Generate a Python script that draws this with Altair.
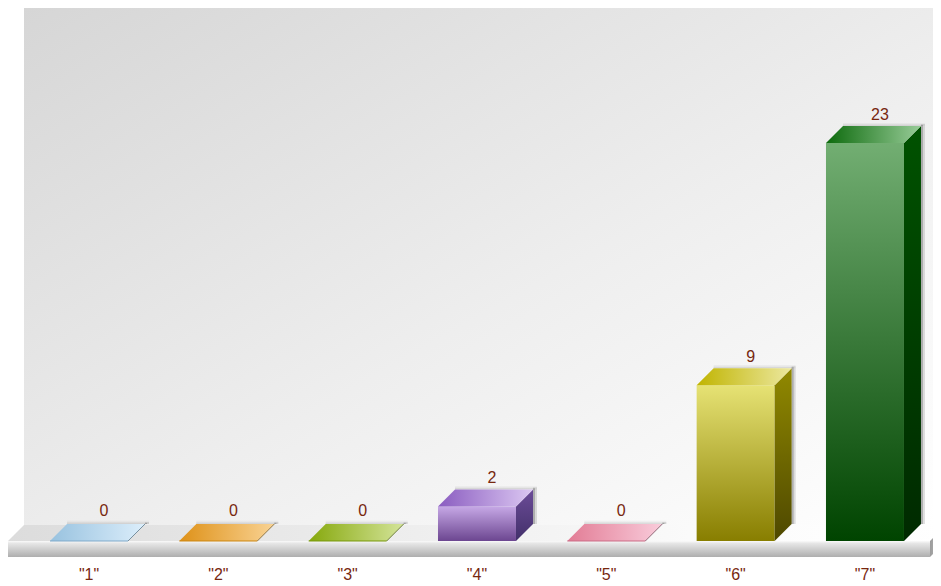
import altair as alt
import pandas as pd

categories = ['"1"', '"2"', '"3"', '"4"', '"5"', '"6"', '"7"']
values = [0, 0, 0, 2, 0, 9, 23]
top_left = ["#98c2df", "#de9118", "#86a80c", "#8a5cc0", "#e27c95", "#c0b400", "#0c6a0c"]
top_right = ["#dceefb", "#f9d394", "#d4e49a", "#dcc8f2", "#f9ccdb", "#ece8a0", "#98cc98"]
front_top = ["#c8e0f2", "#f4c878", "#c4da78", "#c6a8e6", "#f2b4c6", "#e6e274", "#72ae72"]
front_bot = ["#7fa8c8", "#c98410", "#76960a", "#6c4690", "#c86a84", "#887e00", "#004400"]
side_top = ["#9ab0c0", "#b09868", "#90a060", "#6c4c98", "#b08898", "#918900", "#005200"]
side_bot = ["#78909f", "#907848", "#708040", "#42306a", "#906878", "#4e4800", "#002a00"]

W, H = 925, 576
PITCH = 129.33      # px per category
UNIT = 17.3         # px per value unit
BASE_PX = 533       # y of value 0 in chart px
C1_PX = 81          # x of category 1 centre in chart px
HALF = 39 / PITCH
DX = 17 / PITCH
DY = 17 / UNIT
px = 1 / PITCH      # one px on x, in category units
py = 1 / UNIT       # one px on y, in value units

x_dom = [1 - C1_PX * px, 1 + (W - C1_PX) * px]
y_dom = [-(H - BASE_PX) * py, BASE_PX * py]
XS = alt.Scale(domain=x_dom, nice=False, zero=False)
YS = alt.Scale(domain=y_dom, nice=False, zero=False)
XE = alt.X("x:Q", scale=XS, axis=None)
YE = alt.Y("y:Q", scale=YS, axis=None)
X2 = alt.X2("x2:Q")
Y2 = alt.Y2("y2:Q")


def grad(stops, x2=0, y2=1):
    return alt.Gradient(gradient="linear", x1=0, y1=0, x2=x2, y2=y2,
                        stops=[alt.GradientStop(color=c, offset=o) for o, c in stops])


def poly(rows, fill, **kw):
    df = pd.DataFrame(rows, columns=["x", "y", "y2"])
    return alt.Chart(df).mark_area(fill=fill, interpolate="linear", **kw).encode(x=XE, y=YE, y2=Y2)


def box(x, x2, y, y2, fill, **kw):
    df = pd.DataFrame([{"x": x, "x2": x2, "y": y, "y2": y2}])
    return alt.Chart(df).mark_rect(fill=fill, **kw).encode(x=XE, x2=X2, y=YE, y2=Y2)


def segs(points, color):
    df = pd.DataFrame(points, columns=["x", "y"])
    return alt.Chart(df).mark_line(color=color, strokeWidth=1, interpolate="linear").encode(
        x=XE, y=YE, order="i:Q").transform_window(i="row_number()")


# stage positions, in data units
wall_l = 1 + (16 - C1_PX) * px
wall_r = x_dom[1]
floor_l = x_dom[0]
floor_r = 1 + (922 - C1_PX) * px
depth = 16
slab_b = -16 * py
back = depth * py

layers = [
    box(wall_l, wall_r, y_dom[1], back,
        grad([(0, "#d6d6d6"), (0.55, "#eeeeee"), (1, "#ffffff")], x2=1, y2=1)),
    poly([(floor_l, 0, 0), (floor_l + depth * px, back, 0),
          (floor_r, back, 0), (floor_r + depth * px, back, back)],
         grad([(0, "#dcdcdc"), (0.75, "#fbfbfb"), (1, "#ffffff")], x2=1, y2=0)),
    box(floor_l, floor_r, 0, slab_b,
        grad([(0, "#fafafa"), (0.15, "#e6e6e6"), (1, "#aeaeae")])),
    poly([(floor_r, 0, slab_b), (floor_r + depth * px, back, slab_b + back)],
         grad([(0, "#9c9c9c"), (1, "#c8c8c8")], x2=1, y2=0)),
]

for i, (cat, v) in enumerate(zip(categories, values)):
    c = i + 1
    x0, x1 = c - HALF, c + HALF
    # soft shadow behind the block
    for w, op_top, op_side in ((2, 0.18, 0.42), (4, 0.08, 0.22)):
        layers.append(box(x0 + DX, x1 + DX + w * px, v + DY + w * py * 0.8, v + DY,
                          "#808080", opacity=op_top))
        layers.append(box(x1 + DX, x1 + DX + w * px, v + DY + w * py * 0.5, DY,
                          "#707070", opacity=op_side))
    if v > 0:
        layers.append(box(x0, x1, v, 0, grad([(0, front_top[i]), (1, front_bot[i])])))
        layers.append(poly([(x1, v, 0), (x1 + DX, v + DY, DY)],
                           grad([(0, side_top[i]), (1, side_bot[i])])))
    layers.append(poly([(x0, v, v), (x0 + DX, v + DY, v),
                        (x1, v + DY, v), (x1 + DX, v + DY, v + DY)],
                       grad([(0, top_left[i]), (1, top_right[i])], x2=1, y2=0)))
    if v == 0:
        layers.append(segs([(x0, v), (x1, v)], front_bot[i]))
        layers.append(segs([(x1, v), (x1 + DX, v + DY)], side_bot[i]))

labels = pd.DataFrame({
    "cat": categories,
    "val": values,
    "c": [i + 1 for i in range(len(values))],
})
labels["xv"] = labels["c"] + 15 * px
labels["yv"] = labels["val"] + DY + labels["val"].map(lambda n: 13 if n == 0 else 11) * py
labels["yc"] = -34 * py

TEXT = dict(font="Liberation Sans", fontSize=16, color="#77270f", align="center", baseline="middle")
layers.append(alt.Chart(labels).mark_text(**TEXT).encode(
    x=alt.X("xv:Q", scale=XS, axis=None), y=alt.Y("yv:Q", scale=YS, axis=None), text="val:Q"))
layers.append(alt.Chart(labels).mark_text(**TEXT).encode(
    x=alt.X("c:Q", scale=XS, axis=None), y=alt.Y("yc:Q", scale=YS, axis=None), text="cat:N"))

chart = alt.layer(*layers).properties(
    width=W, height=H, padding=0, background="white",
    autosize=alt.AutoSizeParams(type="none"),
).configure_view(stroke=None)

chart.save("out.html", embed_options={"renderer": "svg", "actions": False})
